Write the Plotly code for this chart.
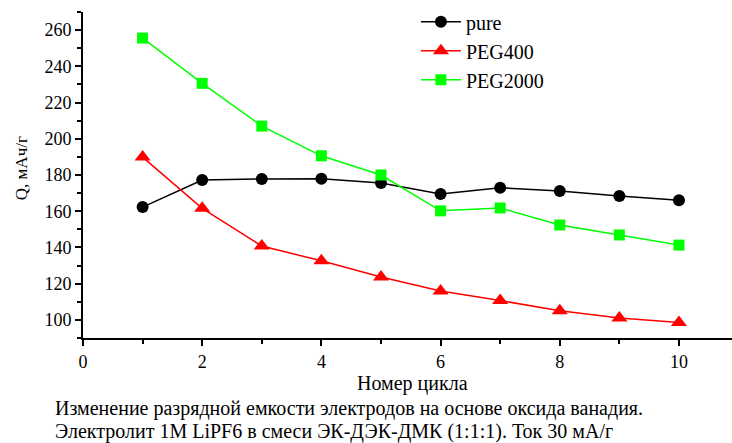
import plotly.graph_objects as go

cycles = [1, 2, 3, 4, 5, 6, 7, 8, 9, 10]
pure = [162.3, 177.2, 177.8, 177.9, 175.6, 169.5, 172.9, 171.2, 168.4, 166.1]
peg400 = [189.9, 161.6, 140.8, 132.6, 123.7, 116.0, 110.7, 105.0, 101.1, 98.6]
peg2000 = [255.6, 230.6, 207.0, 190.6, 180.0, 160.2, 161.8, 152.4, 146.9, 141.3]

FONT = "'Liberation Serif', 'Times New Roman', Times, serif"

fig = go.Figure()
fig.add_trace(go.Scatter(x=cycles, y=pure, mode="lines+markers", name="pure",
                         line=dict(color="black", width=1.5),
                         marker=dict(symbol="circle", size=12, color="black")))
fig.add_trace(go.Scatter(x=cycles, y=peg400, mode="lines+markers", name="PEG400",
                         line=dict(color="#ff0000", width=1.5),
                         marker=dict(symbol="triangle-up", size=14, color="#ff0000")))
fig.add_trace(go.Scatter(x=cycles, y=peg2000, mode="lines+markers", name="PEG2000",
                         line=dict(color="#00ff00", width=1.5),
                         marker=dict(symbol="square", size=11, color="#00ff00")))

fig.update_layout(
    width=732, height=443,
    margin=dict(l=83, r=0, t=12, b=105),
    plot_bgcolor="white", paper_bgcolor="white",
    font=dict(family=FONT, size=18, color="black"),
    showlegend=True,
    legend=dict(x=0.513, y=1.03, xanchor="left", yanchor="top",
                font=dict(family=FONT, size=20), bgcolor="rgba(0,0,0,0)",
                tracegroupgap=0, itemwidth=40),
    xaxis=dict(range=[0, 10.89], showgrid=False, zeroline=False,
               showline=True, linecolor="black", linewidth=2,
               ticks="outside", ticklen=6, tickwidth=1.5, tickcolor="black",
               tick0=0, dtick=2,
               minor=dict(ticks="outside", ticklen=4, dtick=1, tickcolor="black", tickwidth=1.5),
               tickfont=dict(family=FONT, size=18)),
    yaxis=dict(range=[90, 270], showgrid=False, zeroline=False,
               showline=True, linecolor="black", linewidth=2,
               ticks="outside", ticklen=6, tickwidth=1.5, tickcolor="black",
               tick0=100, dtick=20,
               minor=dict(ticks="outside", ticklen=4, dtick=10, tickcolor="black", tickwidth=1.5),
               tickfont=dict(family=FONT, size=18)),
    annotations=[
        dict(text="Q, мАч/г", xref="paper", yref="paper", x=-0.0955, y=0.521,
             xanchor="center", yanchor="middle", textangle=-90, showarrow=False,
             font=dict(family=FONT, size=17)),
        dict(text="Номер цикла", xref="paper", yref="paper", x=0.507, y=-0.141,
             xanchor="center", yanchor="middle", showarrow=False,
             font=dict(family=FONT, size=20)),
        dict(text="Изменение разрядной емкости электродов на основе оксида ванадия.",
             xref="paper", yref="paper", x=-0.046, y=-0.215,
             xanchor="left", yanchor="middle", showarrow=False,
             font=dict(family=FONT, size=20)),
        dict(text="Электролит 1М LiPF6 в смеси ЭК-ДЭК-ДМК (1:1:1). Ток 30 мА/г",
             xref="paper", yref="paper", x=-0.046, y=-0.2875,
             xanchor="left", yanchor="middle", showarrow=False,
             font=dict(family=FONT, size=20)),
    ],
)

fig.write_html("out.html")
